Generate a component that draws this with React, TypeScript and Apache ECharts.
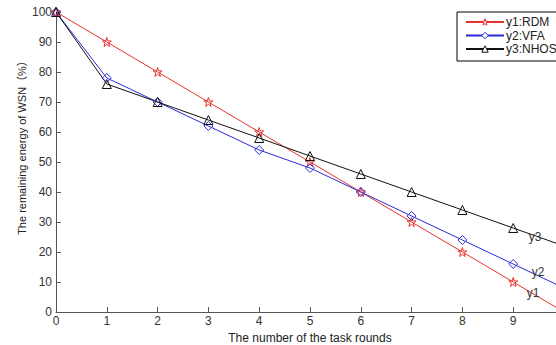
import React, { useEffect, useRef } from "react";
import * as echarts from "echarts";

const rounds = [0, 1, 2, 3, 4, 5, 6, 7, 8, 9, 10];
const y1RDM = [100, 90, 80, 70, 60, 50, 40, 30, 20, 10, 0];
const y2VFA = [100, 78, 70, 62, 54, 48, 40, 32, 24, 16, 8];
const y3NHOS = [100, 76, 70, 64, 58, 52, 46, 40, 34, 28, 22];
const seriesNames = ["y1:RDM", "y2:VFA", "y3:NHOS"];
const tagNames = ["y1", "y2", "y3"];
const tagCoords = [[9.39, 6.3], [9.49, 13.3], [9.43, 25]];
const xTitle = "The number of the task rounds";
const yTitle = "The remaining energy of WSN（%）";

const STAR = "path://M10 0L12.23 6.93L19.51 6.91L13.61 11.17L15.88 18.09L10 13.8L4.12 18.09L6.39 11.17L0.49 6.91L7.77 6.93Z";

export default function App() {
  const ref = useRef<HTMLDivElement>(null);
  useEffect(() => {
    const chart = echarts.init(ref.current!, null, { renderer: "svg" });
    const font = "Liberation Sans, Arial, 'Noto Sans CJK SC', sans-serif";
    const colors = ["#e8322e", "#2a2ad8", "#111111"];
    const symbols = [STAR, "diamond", "triangle"];
    const sizes = [9, 9, 9];
    const datas = [y1RDM, y2VFA, y3NHOS];
    chart.setOption({
      animation: false,
      backgroundColor: "#ffffff",
      textStyle: { fontFamily: font },
      legend: {
        orient: "vertical",
        left: 457,
        top: 12,
        data: seriesNames,
        backgroundColor: "#ffffff",
        borderColor: "#000",
        borderWidth: 1,
        borderRadius: 0,
        padding: [4, 6, 6, 8],
        itemGap: 1.5,
        itemWidth: 38,
        itemHeight: 8,
        itemStyle: { color: "#ffffff", borderColor: "inherit", borderWidth: 1 },
        textStyle: { fontFamily: font, fontSize: 12, color: "#222", padding: [0, 0, 0, -3] },
      },
      graphic: [
        {
          type: "text",
          x: 22,
          y: 145,
          rotation: Math.PI / 2,
          style: {
            text: yTitle,
            fontFamily: font,
            fontSize: 11,
            fill: "#222",
            textAlign: "center",
            textVerticalAlign: "middle",
          },
        },
      ],
      grid: { left: 56, top: 12, width: 508, height: 300, containLabel: false, outerBoundsMode: "none" },
      xAxis: {
        type: "value",
        min: 0,
        max: 10,
        interval: 1,
        name: xTitle,
        nameLocation: "middle",
        nameGap: 14,
        nameTextStyle: { fontFamily: font, fontSize: 12, color: "#222" },
        axisLine: { lineStyle: { color: "#555", width: 1 } },
        axisTick: { inside: true, length: 5, lineStyle: { color: "#555" } },
        axisLabel: { fontFamily: font, fontSize: 12, color: "#333", margin: 3, showMaxLabel: false },
        splitLine: { show: false },
      },
      yAxis: {
        type: "value",
        min: 0,
        max: 100,
        interval: 10,
        axisLine: { show: true, lineStyle: { color: "#555", width: 1 } },
        axisTick: { show: true, inside: true, length: 5, lineStyle: { color: "#555" } },
        axisLabel: { fontFamily: font, fontSize: 12, color: "#333", margin: 4 },
        splitLine: { show: false },
      },
      series: seriesNames.map((name, i) => ({
        name,
        type: "line",
        data: rounds.map((r, j) => [r, datas[i][j]]),
        symbol: symbols[i],
        symbolSize: sizes[i],
        showAllSymbol: true,
        color: colors[i],
        lineStyle: { color: colors[i], width: 1 },
        itemStyle: { color: "rgba(255,255,255,0)", borderColor: colors[i], borderWidth: 1 },
        markPoint: {
          symbol: "circle",
          symbolSize: 0,
          silent: true,
          data: [{ coord: tagCoords[i], value: tagNames[i] }],
          label: {
            show: true,
            position: "inside",
            formatter: tagNames[i],
            fontFamily: font,
            fontSize: 12,
            color: "#333",
          },
        },
      })),
    });
    return () => chart.dispose();
  }, []);
  return <div ref={ref} style={{ width: 556, height: 345, position: "fixed", left: 0, top: 0 }} />;
}
